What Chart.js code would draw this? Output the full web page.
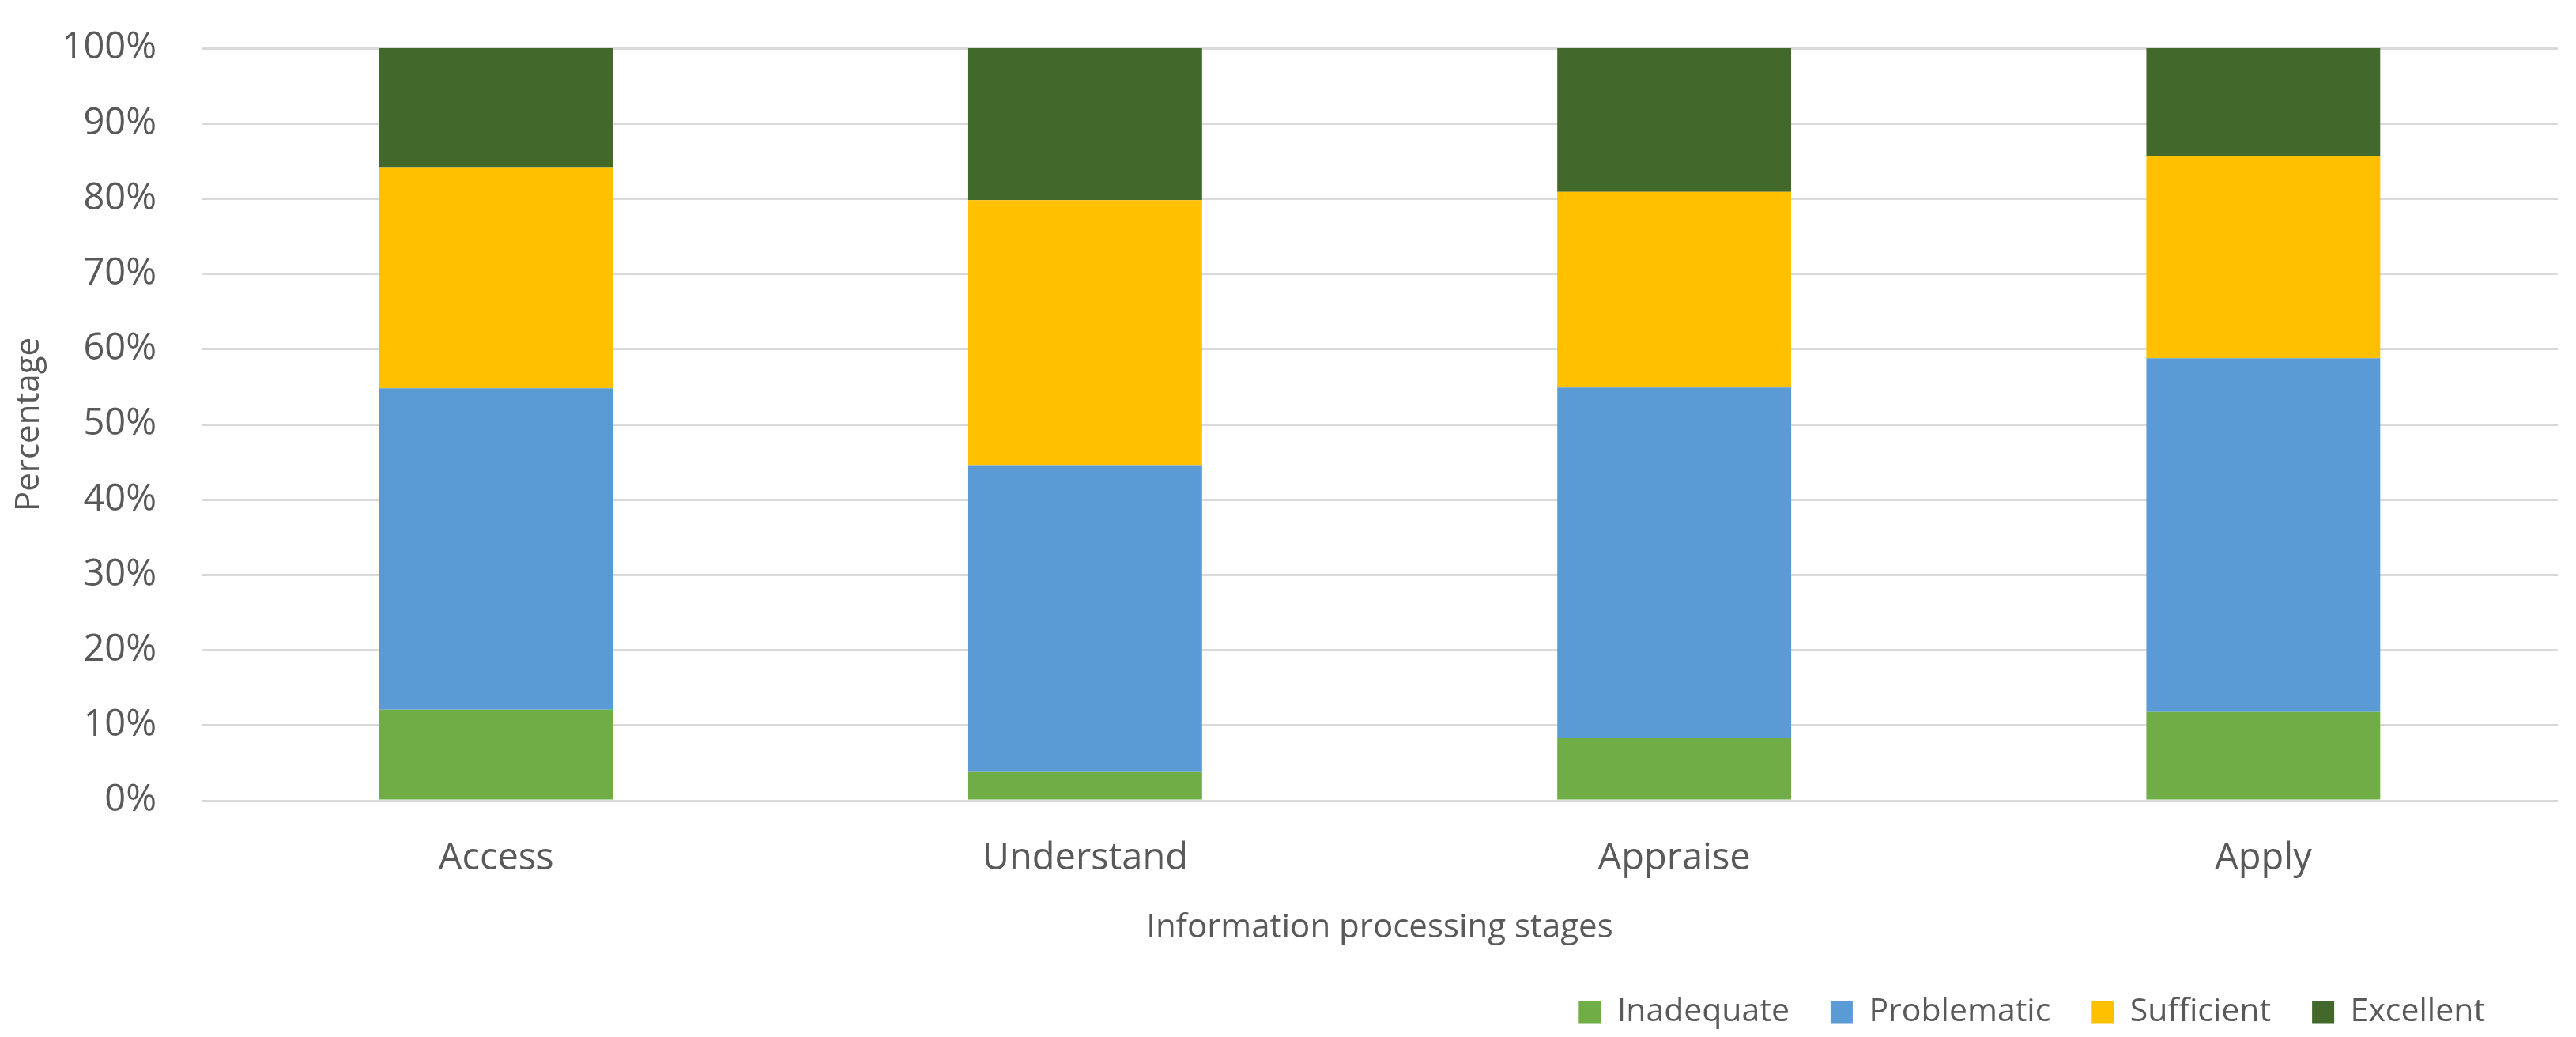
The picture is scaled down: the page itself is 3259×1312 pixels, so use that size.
<!DOCTYPE html>
<html>
<head>
<meta charset="utf-8">
<title>Information processing stages</title>
<script src="https://cdn.jsdelivr.net/npm/chart.js@4/dist/chart.umd.min.js"></script>
<style>
  body { margin: 0; background: #fff; }
  canvas { display: block; }
</style>
</head>
<body>
<canvas id="stagesChart" width="3259" height="1312"></canvas>
<script>
var stages = ["Access", "Understand", "Appraise", "Apply"];
var inadequate = [12.1, 3.8, 8.3, 11.8];
var problematic = [42.7, 40.8, 46.6, 47.0];
var sufficient = [29.4, 35.2, 26.0, 26.9];
var excellent = [15.8, 20.2, 19.1, 14.3];

var textColor = '#595959';
var gridColor = '#d9d9d9';

// Excel puts the legend a bit left of the plot's right edge
var legendShift = {
    id: 'legendShift',
    afterLayout: function(chart) {
        chart.legend.left -= 40;
        chart.legend.right -= 40;
    }
};

var ctx = document.getElementById('stagesChart').getContext('2d');
var myChart = new Chart(ctx, {
    type: 'bar',
    data: {
        labels: stages,
        datasets: [{
            label: 'Inadequate',
            data: inadequate,
            backgroundColor: '#70ad47'
        }, {
            label: 'Problematic',
            data: problematic,
            backgroundColor: '#5b9bd5'
        }, {
            label: 'Sufficient',
            data: sufficient,
            backgroundColor: '#ffc000'
        }, {
            label: 'Excellent',
            data: excellent,
            backgroundColor: '#43682b'
        }]
    },
    options: {
        responsive: false,
        animation: false,
        barPercentage: 0.397,
        categoryPercentage: 1,
        layout: {
            padding: { left: 12, right: 23, top: 61, bottom: 1 }
        },
        plugins: {
            legend: {
                position: 'bottom',
                align: 'end',
                labels: {
                    color: textColor,
                    boxWidth: 28,
                    boxHeight: 28,
                    padding: 52,
                    font: { family: 'Open Sans', size: 41 }
                }
            },
            tooltip: { enabled: false }
        },
        scales: {
            x: {
                stacked: true,
                grid: { display: false, drawTicks: false },
                border: { display: false },
                ticks: {
                    color: textColor,
                    padding: 45,
                    font: { family: 'Open Sans', size: 47 }
                },
                title: {
                    display: true,
                    text: 'Information processing stages',
                    color: textColor,
                    padding: { top: 0, bottom: 9 },
                    font: { family: 'Open Sans', size: 42 }
                },
                afterFit: function(scale) {
                    scale.height = 195;
                }
            },
            y: {
                stacked: true,
                min: 0,
                max: 100,
                grid: { color: gridColor, lineWidth: 3, drawTicks: false },
                border: { display: false },
                ticks: {
                    stepSize: 10,
                    color: textColor,
                    padding: 57,
                    font: { family: 'Open Sans', size: 47 },
                    callback: function(value) {
                        return value + '%';
                    }
                },
                title: {
                    display: true,
                    text: 'Percentage',
                    color: textColor,
                    padding: 0,
                    font: { family: 'Open Sans', size: 42 }
                },
                afterFit: function(scale) {
                    scale.width = 243;
                    // the big tick padding should not push the plot down
                    scale.paddingTop = 0;
                    scale.paddingBottom = 0;
                }
            }
        }
    },
    plugins: [legendShift]
});
</script>
</body>
</html>
